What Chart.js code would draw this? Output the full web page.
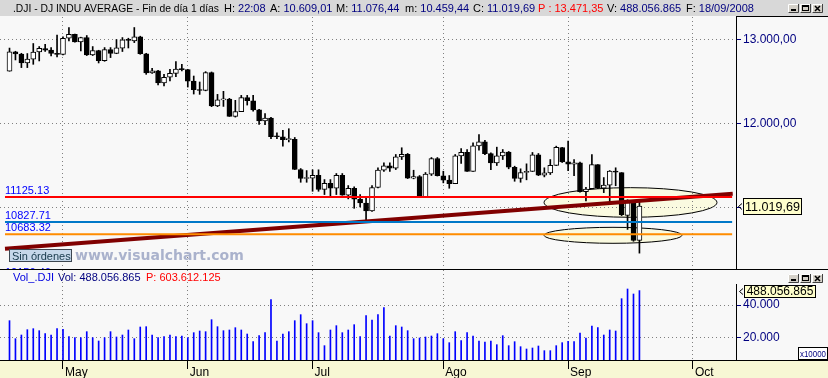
<!DOCTYPE html>
<html>
<head>
<meta charset="utf-8">
<script src="https://cdn.jsdelivr.net/npm/chart.js@4.4.0/dist/chart.umd.min.js"></script>
<style>
  html, body { margin: 0; padding: 0; background: #f8f8f8; overflow: hidden; }
  #wrap { position: relative; width: 828px; height: 378px; }
  canvas { position: absolute; left: 0; }
  #price { top: 0; }
  #vol { top: 270px; }
</style>
</head>
<body>
<div id="wrap">
  <canvas id="price" width="828" height="270"></canvas>
  <canvas id="vol" width="828" height="108"></canvas>
</div>
<script>
// .DJI daily, 18/04/2008 .. 18/09/2008 (one entry per session)
const monthLabels = ['May', 'Jun', 'Jul', 'Ago', 'Sep', 'Oct'];
const monthStart = [9, 30, 51, 73, 94, 115];   // session index of first day of month

const open = [12620,12849,12825,12720,12763,12848,12889,12871,12831,12820,
  13012,13058,12969,13020,12814,12866,12745,12876,12832,12895,
  12992,12980,13028,12828,12601,12625,12480,12548,12594,12646,
  12638,12503,12402,12391,12604,12209,12280,12289,12083,12141,
  12307,12269,12160,12029,12063,11843,11842,11808,11811,11453,
  11346,11350,11382,11215,11288,11231,11384,11147,11229,11100,
  11055,10962,11239,11446,11496,11467,11602,11632,11349,11370,
  11131,11397,11583,11378,11326,11284,11615,11656,11431,11734,
  11782,11642,11532,11615,11659,11479,11348,11417,11430,11628,
  11386,11412,11502,11714,11545,11516,11532,11188,11224,11510,
  11231,11268,11434,11416,10907,11056,10609.01];
const high = [12895,12857,12833,12830,12949,12913,12940,12901,13050,13027,
  13139,13060,13024,13044,12913,12869,12901,12901,12996,13020,
  13012,13139,13036,12833,12655,12631,12583,12643,12734,12702,
  12643,12563,12492,12615,12611,12345,12381,12298,12274,12333,
  12333,12333,12167,12116,12071,11889,11917,11937,11833,11464,
  11440,11449,11449,11333,11333,11405,11405,11262,11247,11155,
  11135,11262,11473,11532,11532,11631,11711,11643,11444,11381,
  11417,11595,11595,11432,11381,11631,11702,11690,11770,11867,
  11798,11651,11718,11690,11667,11492,11461,11520,11655,11643,
  11473,11571,11730,11715,11790,11570,11540,11240,11630,11512,
  11357,11440,11473,11416,11094,11057,11076.44];
const low = [12620,12754,12663,12663,12702,12742,12854,12801,12790,12813,
  12980,12966,12861,12806,12806,12718,12738,12782,12828,12854,
  12896,12960,12821,12583,12595,12456,12444,12504,12556,12623,
  12432,12349,12345,12387,12199,12199,12202,12083,12075,12140,
  12218,12146,11988,11985,11818,11818,11730,11780,11452,11301,
  11301,11194,11194,11155,11127,11155,11147,11104,10992,11008,
  10827.71,10956,11235,11429,11429,11452,11571,11345,11342,11131,
  11131,11381,11375,11294,11230,11284,11524,11429,11429,11682,
  11630,11452,11500,11571,11461,11313,11301,11330,11429,11380,
  11365,11393,11500,11536,11440,11380,11182,11080,11224,11225,
  11178,11060,11260,10905,10741,10600,10459.44];
const close = [12849,12825,12720,12763,12848,12891,12871,12832,12820,13010,
  13058,12969,13020,12814,12866,12745,12876,12832,12898,12992,
  12986,13028,12828,12601,12625,12480,12548,12594,12646,12638,
  12503,12402,12391,12604,12209,12280,12289,12083,12141,12307,
  12269,12160,12029,12063,11843,11842,11807,11811,11453,11346,
  11350,11382,11215,11288,11231,11384,11147,11229,11100,11055,
  10962,11239,11446,11496,11467,11602,11632,11349,11370,11131,
  11397,11583,11378,11326,11284,11615,11656,11431,11734,11782,
  11642,11532,11615,11659,11479,11348,11417,11430,11628,11386,
  11412,11502,11715,11543,11516,11532,11188,11220,11511,11231,
  11268,11433,11421,10917,11059,10609,11019.69];
// volume in units of 10000 shares
const volume = [30420,19410,21650,24910,25520,24300,22470,21650,25520,25120,
  20630,20020,20020,23690,20020,17980,20020,23690,20430,21650,
  24710,19410,26540,26750,21650,20020,20630,21650,20630,21040,
  20020,23080,24100,23690,31030,26750,24300,24710,26130,24710,
  22260,17570,21240,23080,43260,17980,22260,23690,30420,34090,
  28580,30420,23080,15130,24710,27360,23080,24710,27970,20630,
  33470,30830,34090,38370,21040,27360,26540,24300,19410,19820,
  20430,21040,22470,19410,16960,23690,18180,23080,21040,17980,
  17370,17980,15740,21240,15130,17570,14510,13090,13700,14920,
  12070,12070,15130,16960,17780,17570,22880,19820,27160,26130,
  21650,24710,24100,43870,49790,46730,48805.6865];

const priceTicks = [11000, 12000, 13000];
const volTicks = [20000, 40000];

// drawn objects: horizontal levels, trend line, highlight zones
const levels = [11125.13, 10827.71, 10683.32, 10156.46];
const levelSpan = [-0.76, 121.6];
const trendStart = [-0.76, 10511];
const trendEnd = [121.7, 11164];
const zones = [
  { idx: 104.5, price: 11061, halfIdx: 14.55, halfPrice: 176 },
  { idx: 101.55, price: 10671, halfIdx: 11.6, halfPrice: 95 }
];

const xMin = -1.6, xMax = 122.25;
const priceMin = 10259, priceMax = 13264;
const volMin = 6361, volMax = 61407;

const FONT = "'Liberation Sans', Arial, sans-serif";
const NAVY = '#000080';
const levelColors = ['#ff0000', '#0078c8', '#ff8c00', '#0000ff'];

Chart.defaults.font.family = FONT;
Chart.defaults.font.size = 12;

function fmtEs(v, d) {
  const p = Number(v).toFixed(d).split('.');
  const ip = p[0].replace(/\B(?=(\d{3})+(?!\d))/g, '.');
  return d ? ip + ',' + p[1] : ip;
}

function drawButtons(ctx, x0, y0) {
  const w = 11, h = 9;
  [0, 12, 24].forEach((dx, k) => {
    const bx = x0 + dx, by = y0;
    ctx.fillStyle = '#d4d0c8';
    ctx.fillRect(bx, by, w, h);
    ctx.lineWidth = 1;
    ctx.strokeStyle = '#ffffff';
    ctx.beginPath(); ctx.moveTo(bx + 0.5, by + h); ctx.lineTo(bx + 0.5, by + 0.5); ctx.lineTo(bx + w, by + 0.5); ctx.stroke();
    ctx.strokeStyle = '#404040';
    ctx.beginPath(); ctx.moveTo(bx + 0.5, by + h - 0.5); ctx.lineTo(bx + w - 0.5, by + h - 0.5); ctx.lineTo(bx + w - 0.5, by); ctx.stroke();
    ctx.fillStyle = '#000'; ctx.strokeStyle = '#000';
    if (k === 0) {
      ctx.fillRect(bx + 3, by + 5, 5, 2);
    } else if (k === 1) {
      ctx.strokeRect(bx + 2.5, by + 1.5, 6, 5);
      ctx.fillRect(bx + 2, by + 1, 7, 2);
    } else {
      ctx.lineWidth = 1.5;
      ctx.beginPath();
      ctx.moveTo(bx + 3, by + 2); ctx.lineTo(bx + 8, by + 7);
      ctx.moveTo(bx + 8, by + 2); ctx.lineTo(bx + 3, by + 7);
      ctx.stroke();
      ctx.lineWidth = 1;
    }
  });
}

function valueBox(ctx, x, cy, w, h, text, size) {
  ctx.fillStyle = '#ffffcc';
  ctx.fillRect(x + 0.5, cy - h / 2 + 0.5, w, h);
  ctx.strokeStyle = '#000'; ctx.lineWidth = 1;
  ctx.strokeRect(x + 0.5, cy - h / 2 + 0.5, w, h);
  ctx.beginPath();
  ctx.moveTo(x - 1, cy - 2.5); ctx.lineTo(x - 4.5, cy + 0.5); ctx.lineTo(x - 1, cy + 3.5);
  ctx.stroke();
  ctx.fillStyle = '#000';
  ctx.font = size + 'px ' + FONT;
  ctx.textAlign = 'center'; ctx.textBaseline = 'middle';
  ctx.fillText(text, x + w / 2 + 0.5, cy + 1, w - 3);
  ctx.textAlign = 'left'; ctx.textBaseline = 'alphabetic';
}

const header = [
  [13, '.DJI - DJ INDU AVERAGE - Fin de día 1 días', '', '#000', 206],
  [224, 'H:', '22:08', NAVY],
  [270, 'A:', fmtEs(open[open.length - 1], 2), NAVY],
  [336, 'M:', fmtEs(high[high.length - 1], 2), NAVY],
  [405, 'm:', fmtEs(low[low.length - 1], 2), NAVY],
  [473, 'C:', fmtEs(close[close.length - 1], 2), NAVY],
  [538, 'P :', '13.471,35', '#ff0000', 0, '#ff0000'],
  [607, 'V:', '488.056.865', NAVY],
  [686, 'F:', '18/09/2008', NAVY]
];

const priceDeco = {
  id: 'priceDeco',
  beforeDraw(chart) {
    const { ctx, scales: { x, y } } = chart;
    ctx.save();
    ctx.fillStyle = '#f8f8f8';
    ctx.fillRect(0, 0, chart.width, chart.height);
    ctx.fillStyle = '#d8d8d8';
    ctx.fillRect(0, 0, chart.width, 16);
    zones.forEach(z => {
      const cx = x.getPixelForValue(z.idx), cy = y.getPixelForValue(z.price);
      const rx = x.getPixelForValue(z.idx + z.halfIdx) - cx;
      const ry = y.getPixelForValue(z.price - z.halfPrice) - cy;
      ctx.beginPath();
      ctx.ellipse(cx, cy, rx, ry, 0, 0, Math.PI * 2);
      ctx.fillStyle = '#fafae0';
      ctx.fill();
      ctx.strokeStyle = '#000'; ctx.lineWidth = 1;
      ctx.stroke();
    });
    ctx.restore();
  },
  afterDraw(chart) {
    const { ctx, chartArea: a, scales: { y } } = chart;
    ctx.save();
    // level captions
    ctx.font = '11px ' + FONT;
    ctx.fillStyle = '#0000ff';
    levels.forEach(lv => ctx.fillText(lv.toFixed(2), 5, Math.round(y.getPixelForValue(lv)) - 3));
    // watermark
    ctx.font = "bold 14px 'DejaVu Sans', Verdana, sans-serif";
    ctx.fillStyle = '#aab2cc';
    ctx.fillText('www.visualchart.com', 75, 259.5);
    // orders button
    ctx.fillStyle = '#c6d8ea';
    ctx.fillRect(9.5, 249.5, 62, 12);
    ctx.strokeStyle = '#3c4650'; ctx.lineWidth = 1;
    ctx.strokeRect(9.5, 249.5, 62, 12);
    ctx.font = '11px ' + FONT;
    ctx.fillStyle = '#16384a';
    ctx.fillText('Sin órdenes', 12, 259.5);
    // frame
    ctx.strokeStyle = '#000';
    ctx.beginPath();
    ctx.moveTo(a.right + 0.5, 16); ctx.lineTo(a.right + 0.5, chart.height);
    ctx.moveTo(a.right, 16.5); ctx.lineTo(chart.width, 16.5);
    ctx.moveTo(0, chart.height - 0.5); ctx.lineTo(chart.width, chart.height - 0.5);
    ctx.stroke();
    // last price box
    valueBox(ctx, a.right + 7, Math.round(y.getPixelForValue(close[close.length - 1])), 58, 16, fmtEs(close[close.length - 1], 2), 13);
    // header line
    ctx.font = '11px ' + FONT;
    header.forEach(([hx, lab, val, col, maxW, labCol]) => {
      ctx.fillStyle = labCol || '#000';
      if (maxW) ctx.fillText(lab, hx, 12, maxW); else ctx.fillText(lab, hx, 12);
      if (val) {
        ctx.fillStyle = col;
        ctx.fillText(val, hx + ctx.measureText(lab + ' ').width, 12);
      }
    });
    drawButtons(ctx, 788, 4);
    ctx.restore();
  }
};

const volDeco = {
  id: 'volDeco',
  beforeDraw(chart) {
    const { ctx, chartArea: a } = chart;
    ctx.save();
    ctx.fillStyle = '#f8f8f8';
    ctx.fillRect(0, 0, chart.width, chart.height);
    ctx.fillStyle = '#f7f7d4';
    ctx.fillRect(0, a.bottom, chart.width, chart.height - a.bottom);
    ctx.restore();
  },
  afterDraw(chart) {
    const { ctx, chartArea: a, scales: { y } } = chart;
    ctx.save();
    ctx.strokeStyle = '#000'; ctx.lineWidth = 1;
    ctx.beginPath();
    ctx.moveTo(0, a.bottom + 0.5); ctx.lineTo(chart.width, a.bottom + 0.5);
    ctx.moveTo(a.right + 0.5, 14); ctx.lineTo(a.right + 0.5, a.bottom);
    ctx.stroke();
    ctx.font = '11px ' + FONT;
    ctx.fillStyle = '#0000e0';
    ctx.fillText('Vol_.DJI', 13, 11);
    ctx.fillStyle = NAVY;
    ctx.fillText('Vol: 488.056.865', 58, 11);
    ctx.fillStyle = '#ff0000';
    ctx.fillText('P: 603.612.125', 146, 11);
    const lastVol = volume[volume.length - 1];
    valueBox(ctx, a.right + 8, Math.round(y.getPixelForValue(lastVol)), 71, 12, '488.056.865', 12);
    ctx.fillStyle = '#ffffff';
    ctx.fillRect(798.5, 77.5, 29, 12);
    ctx.strokeStyle = '#000';
    ctx.strokeRect(798.5, 77.5, 29, 12);
    ctx.font = '9px ' + FONT;
    ctx.fillStyle = NAVY;
    ctx.fillText('x10000', 800, 87, 26);
    drawButtons(ctx, 788, 4);
    ctx.restore();
  }
};

const idx = close.map((_, i) => i);

new Chart(document.getElementById('price'), {
  type: 'bar',
  data: {
    datasets: [
      ...levels.map((lv, k) => ({
        type: 'line',
        data: [{ x: levelSpan[0], y: lv }, { x: levelSpan[1], y: lv }],
        borderColor: levelColors[k],
        borderWidth: 2,
        pointRadius: 0,
        order: 0
      })),
      {
        type: 'line',
        data: [{ x: trendStart[0], y: trendStart[1] }, { x: trendEnd[0], y: trendEnd[1] }],
        borderColor: '#800000',
        borderWidth: 4,
        pointRadius: 0,
        order: 0
      },
      {
        data: idx.map(i => ({ x: i, y: [low[i], high[i]] })),
        backgroundColor: '#000',
        barThickness: 1,
        grouped: false,
        order: 2,
        clip: 0
      },
      {
        data: idx.map(i => ({ x: i, y: [open[i], close[i]] })),
        backgroundColor: idx.map(i => close[i] >= open[i] ? '#ffffff' : '#000000'),
        borderColor: '#000',
        borderWidth: 1,
        borderSkipped: false,
        barThickness: 5,
        minBarLength: 1,
        grouped: false,
        order: 1,
        clip: 0
      }
    ]
  },
  options: {
    responsive: false,
    animation: false,
    events: [],
    layout: { padding: { top: 17, left: 0, right: 0, bottom: 0 } },
    plugins: { legend: { display: false }, tooltip: { enabled: false } },
    scales: {
      x: {
        type: 'linear', min: xMin, max: xMax, offset: false,
        grid: { color: '#808080', drawTicks: false, offset: false },
        border: { display: false, dash: [1, 3] },
        ticks: { display: false },
        afterBuildTicks: s => { s.ticks = monthStart.map(v => ({ value: v })); },
        afterFit: s => { s.height = 0; s.paddingLeft = 0; s.paddingRight = 0; }
      },
      y: {
        position: 'right', min: priceMin, max: priceMax,
        grid: { color: '#808080', tickLength: 5, tickColor: NAVY, tickBorderDash: [] },
        border: { display: false, dash: [1, 3] },
        ticks: { color: NAVY, padding: 2, font: { size: 12 }, callback: v => fmtEs(v, 2) },
        afterBuildTicks: s => { s.ticks = priceTicks.map(v => ({ value: v })); },
        afterFit: s => { s.width = 92; s.paddingTop = 0; s.paddingBottom = 0; }
      }
    }
  },
  plugins: [priceDeco]
});

new Chart(document.getElementById('vol'), {
  type: 'bar',
  data: {
    datasets: [{
      data: idx.map(i => ({ x: i, y: volume[i] })),
      backgroundColor: '#0000ff',
      barThickness: 1,
      grouped: false,
      clip: 0
    }]
  },
  options: {
    responsive: false,
    animation: false,
    events: [],
    layout: { padding: 0 },
    plugins: { legend: { display: false }, tooltip: { enabled: false } },
    scales: {
      x: {
        type: 'linear', min: xMin, max: xMax, offset: false, position: 'bottom',
        grid: { color: '#808080', tickLength: 9, tickColor: '#000', tickBorderDash: [], offset: false },
        border: { display: false, dash: [1, 3] },
        ticks: {
          color: '#000', font: { size: 12 }, align: 'start', labelOffset: 2, padding: -4,
          autoSkip: false, maxRotation: 0, callback: (v, i) => monthLabels[i]
        },
        afterBuildTicks: s => { s.ticks = monthStart.map(v => ({ value: v })); },
        afterFit: s => { s.height = 18; s.paddingLeft = 0; s.paddingRight = 0; }
      },
      y: {
        position: 'right', min: volMin, max: volMax,
        grid: { color: '#808080', tickLength: 5, tickColor: NAVY, tickBorderDash: [] },
        border: { display: false, dash: [1, 3] },
        ticks: { color: NAVY, padding: 2, font: { size: 12 }, callback: v => fmtEs(v, 0) },
        afterBuildTicks: s => { s.ticks = volTicks.map(v => ({ value: v })); },
        afterFit: s => { s.width = 92; s.paddingTop = 0; s.paddingBottom = 0; }
      }
    }
  },
  plugins: [volDeco]
});
</script>
</body>
</html>
